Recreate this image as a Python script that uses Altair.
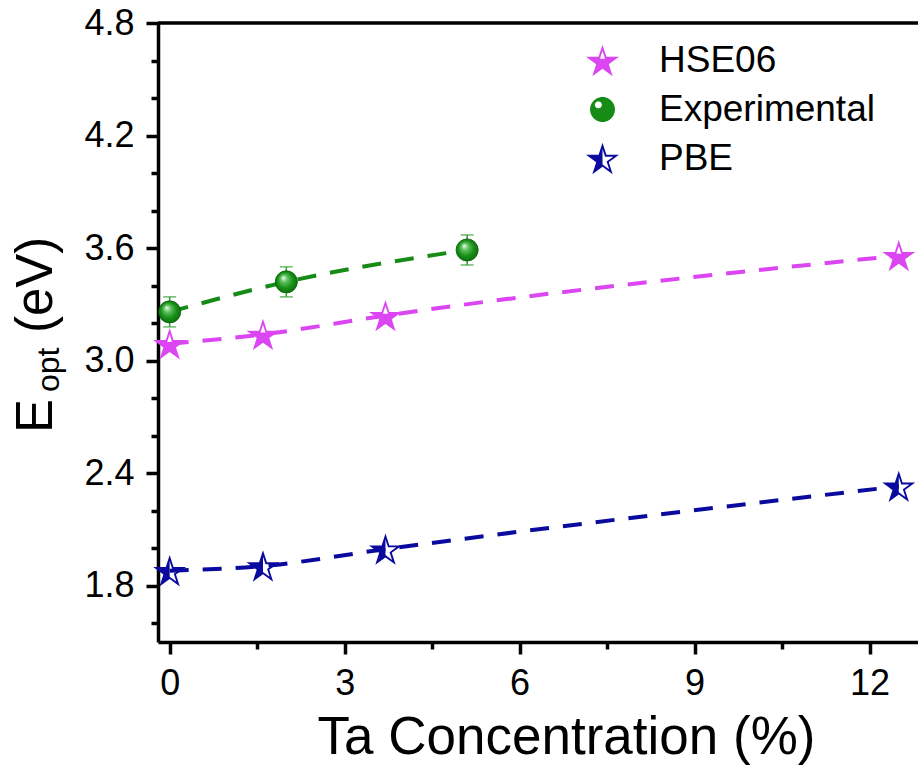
import math
import altair as alt
import pandas as pd

# ---- data -------------------------------------------------------------
hse_x = [0.0, 1.6, 3.7, 12.5]
hse_y = [3.09, 3.14, 3.24, 3.56]

exp_x = [0.0, 2.0, 5.1]
exp_y = [3.26, 3.42, 3.59]
exp_err = [0.08, 0.08, 0.08]

pbe_x = [0.0, 1.6, 3.7, 12.5]
pbe_y = [1.88, 1.905, 1.995, 2.33]

series_names = ["HSE06", "Experimental", "PBE"]
x_ticks = [0, 1.5, 3, 4.5, 6, 7.5, 9, 10.5, 12]
y_ticks = [1.6, 1.8, 2.0, 2.2, 2.4, 2.6, 2.8, 3.0, 3.2, 3.4, 3.6, 3.8, 4.0, 4.2, 4.4, 4.6, 4.8]

# ---- styling ----------------------------------------------------------
FONT = "Liberation Sans"
MAGENTA = "#DB45F2"
GREEN = "#168C16"
NAVY = "#0A0A9E"
ERR_GREEN = "#2E9E2E"
W, H = 760, 619
STAR_SIZE = 1200


# ---- marker shapes (half-filled stars, sphere) --------------------------
def star_pts(scale=1.0):
    pts = []
    for k in range(10):
        ang = math.radians(-90 + 36 * k)
        rad = (1.0 if k % 2 == 0 else 0.382) * scale
        pts.append((rad * math.cos(ang), rad * math.sin(ang)))
    return pts


def clip(poly, inside, cross):
    out = []
    n = len(poly)
    for i in range(n):
        a, b = poly[i], poly[(i + 1) % n]
        ia, ib = inside(a), inside(b)
        if ia:
            out.append(a)
        if ia != ib:
            out.append(cross(a, b))
    return out


def cross_y(c):
    return lambda a, b: (a[0] + (b[0] - a[0]) * (c - a[1]) / (b[1] - a[1]), c)


def cross_x(c):
    return lambda a, b: (c, a[1] + (b[1] - a[1]) * (c - a[0]) / (b[0] - a[0]))


def to_path(polys, dy=0.0):
    parts = []
    for poly in polys:
        parts.append("M" + " L".join(f"{x:.4f},{y + dy:.4f}" for x, y in poly) + " Z")
    return " ".join(parts)


DY = 0.0955  # centre the star's bounding box on the data point
outer = star_pts(1.0)
inner = star_pts(0.65)[::-1]  # reversed winding -> hollow ring
hse_fill = clip(outer, lambda p: p[1] >= -0.2, cross_y(-0.2))      # lower part filled
pbe_fill = clip(outer, lambda p: p[0] <= 1e-9, cross_x(0.0))       # left half filled
hse_path = to_path([outer, inner, hse_fill], DY)
pbe_path = to_path([outer, inner, pbe_fill], DY)


def circle_pts(cx, cy, r, n=60, cw=True):
    pts = [(cx + r * math.cos(2 * math.pi * i / n), cy + r * math.sin(2 * math.pi * i / n)) for i in range(n)]
    return pts if cw else pts[::-1]


sphere_path = to_path([circle_pts(0, 0, 0.72), circle_pts(-0.24, -0.27, 0.2, cw=False)])

# ---- tables -----------------------------------------------------------
stars_df = pd.DataFrame({
    "x": hse_x + pbe_x,
    "y": hse_y + pbe_y,
    "series": ["HSE06"] * len(hse_x) + ["PBE"] * len(pbe_x),
})
exp_df = pd.DataFrame({
    "x": exp_x,
    "y": exp_y,
    "lo": [v - e for v, e in zip(exp_y, exp_err)],
    "hi": [v + e for v, e in zip(exp_y, exp_err)],
})
curves = [
    (pd.DataFrame({"x": hse_x, "y": hse_y}), MAGENTA),
    (pd.DataFrame({"x": exp_x, "y": exp_y}), GREEN),
    (pd.DataFrame({"x": pbe_x, "y": pbe_y}), NAVY),
]
one_row = pd.DataFrame({"k": [0]})

# ---- scales and axes --------------------------------------------------
x_scale = alt.Scale(domain=[-0.2, 12.83], nice=False, zero=False)
y_scale = alt.Scale(domain=[1.5, 4.8], nice=False, zero=False)

common_axis = dict(
    grid=False,
    domainColor="black",
    domainWidth=3.5,
    tickColor="black",
    tickWidth=3.5,
    labelFont=FONT,
    labelFontSize=36,
    labelColor="black",
    labelFlush=False,
)

x_axis = alt.Axis(
    values=x_ticks,
    labelExpr="datum.value % 3 == 0 ? datum.label : ''",
    tickSize={"condition": {"test": "datum.value % 3 == 0", "value": 12}, "value": 7},
    labelPadding=12,
    title="Ta Concentration (%)",
    titleFont=FONT,
    titleFontSize=53,
    titleFontWeight="normal",
    titleColor="black",
    titleX=408,
    titleY=111,
    titleAlign="center",
    titleBaseline="alphabetic",
    **common_axis,
)
y_axis = alt.Axis(
    values=y_ticks,
    labelExpr="round(datum.value * 10) % 6 == 0 ? format(datum.value, '.1f') : ''",
    tickSize={"condition": {"test": "round(datum.value * 10) % 6 == 0", "value": 12}, "value": 7},
    labelPadding=12,
    title=None,
    **common_axis,
)


def X(field="x"):
    return alt.X(f"{field}:Q", scale=x_scale, axis=x_axis)


def Y(field="y"):
    return alt.Y(f"{field}:Q", scale=y_scale, axis=y_axis)


# ---- layers -----------------------------------------------------------
line_layers = [
    alt.Chart(df).mark_line(
        color=col, strokeWidth=4, strokeDash=[19, 14], interpolate="monotone"
    ).encode(x=X(), y=Y())
    for df, col in curves
]

err_layer = alt.Chart(exp_df).mark_errorbar(
    color=ERR_GREEN,
    thickness=1.5,
    ticks={"size": 13, "thickness": 1.5, "color": ERR_GREEN},
).encode(x=X(), y=Y("lo"), y2=alt.Y2("hi:Q"))

star_layer = alt.Chart(stars_df).mark_point(
    filled=True, size=STAR_SIZE, strokeWidth=0, opacity=1
).encode(
    x=X(),
    y=Y(),
    shape=alt.Shape(
        "series:N",
        scale=alt.Scale(domain=series_names, range=[hse_path, sphere_path, pbe_path]),
        legend=alt.Legend(title=None),
    ),
    color=alt.Color(
        "series:N",
        scale=alt.Scale(domain=series_names, range=[MAGENTA, GREEN, NAVY]),
        legend=alt.Legend(title=None),
    ),
)

sphere_fill = alt.RadialGradient(
    gradient="radial",
    stops=[
        alt.GradientStop(color="#f4fff4", offset=0.0),
        alt.GradientStop(color="#5cbf5c", offset=0.3),
        alt.GradientStop(color="#178f17", offset=0.65),
        alt.GradientStop(color="#0b6a0b", offset=1.0),
    ],
    x1=0.36, y1=0.3, r1=0.0,
    x2=0.5, y2=0.5, r2=0.55,
)
sphere_layer = alt.Chart(exp_df).mark_circle(
    size=490, fill=sphere_fill, stroke="#0b5e0b", strokeWidth=0.8, opacity=1
).encode(x=X(), y=Y())

# top frame line
top_rule = alt.Chart(one_row).mark_rule(color="black", strokeWidth=3.5).encode(
    x=alt.value(0), x2=alt.value(W), y=alt.value(0)
)

# y-axis title with subscript: E_opt (eV)
def title_piece(text, size, xpos, ypos):
    return alt.Chart(one_row).mark_text(
        text=text, angle=270, align="left", baseline="alphabetic",
        font=FONT, fontSize=size, color="black",
    ).encode(x=alt.value(xpos), y=alt.value(ypos))


y_title = [
    title_piece("E", 51, -106, 410),
    title_piece("opt", 32, -99, 369),
    title_piece("(eV)", 51, -106, 310),
]

chart = alt.layer(
    *line_layers, err_layer, star_layer, sphere_layer, top_rule, *y_title
).properties(
    width=W,
    height=H,
    padding={"left": 158, "top": 23, "right": 0, "bottom": 125},
    autosize=alt.AutoSizeParams(type="none"),
    background="white",
).configure_view(
    stroke=None
).configure_legend(
    orient="none",
    legendX=426,
    legendY=19,
    padding=0,
    rowPadding=11,
    labelFont=FONT,
    labelFontSize=37,
    labelColor="black",
    labelOffset=38,
    labelLimit=0,
    symbolSize=STAR_SIZE,
    symbolStrokeWidth=0,
    symbolOpacity=1,
)

chart.save("out.html", embed_options={"renderer": "svg", "actions": False})
